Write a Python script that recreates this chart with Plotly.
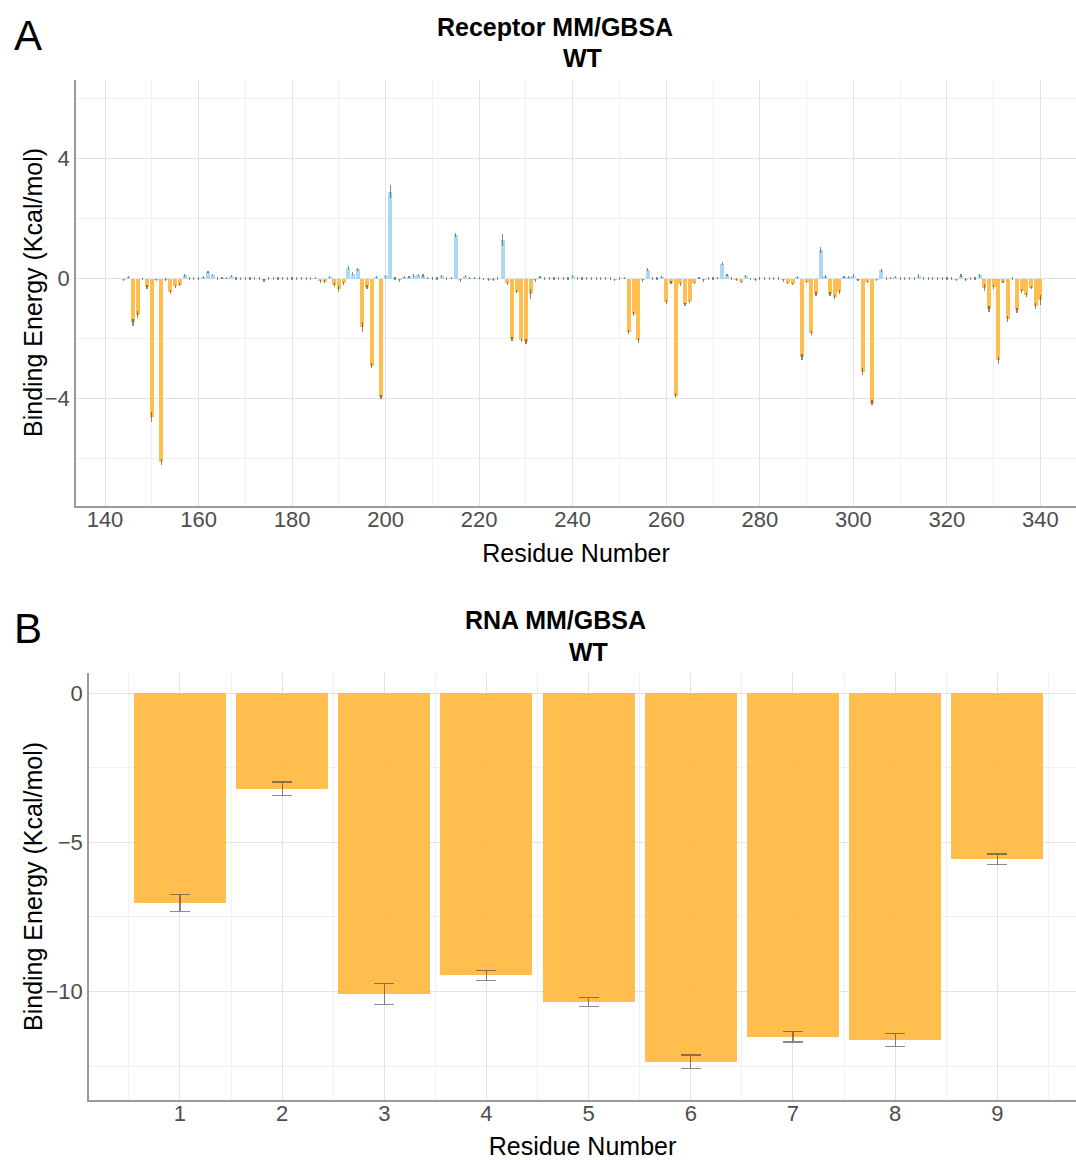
import plotly.graph_objects as go

# ---------------- Data ----------------
# Panel A: receptor residues 144..340
receptor_residues = list(range(144, 341))
receptor_energy = [
    -0.05, 0.05, -1.45, -1.2, -0.02, -0.28, -4.6, -0.05, -6.1, -0.03,   # 144-153
    -0.44, -0.25, -0.2, 0.11, 0.0, 0.0, 0.0, 0.05, 0.22, 0.13,          # 154-163
    0.0, 0.02, 0.02, 0.08, 0.0, 0.0, 0.0, 0.0, 0.0, 0.0,                # 164-173
    -0.06, 0.0, 0.0, 0.0, 0.0, 0.0, 0.0, 0.0, 0.0, 0.0,                 # 174-183
    0.0, 0.03, -0.08, -0.11, 0.05, -0.22, -0.35, -0.15, 0.37, 0.17,     # 184-193
    0.31, -1.6, -0.28, -2.9, 0.05, -3.94, 0.08, 2.9, 0.01, -0.06,       # 194-203
    0.06, 0.05, 0.1, 0.12, 0.1, 0.02, 0.0, 0.0, 0.09, 0.0,              # 204-213
    0.02, 1.45, -0.06, 0.08, 0.03, 0.03, 0.02, -0.02, -0.03, -0.03,     # 214-223
    0.0, 1.28, -0.15, -2.0, -0.44, -2.06, -2.1, -0.5, -0.06, 0.05,      # 224-233
    0.0, 0.0, 0.0, 0.0, 0.0, 0.0, 0.08, 0.0, 0.0, 0.0,                  # 234-243
    0.0, 0.0, 0.0, 0.0, 0.0, -0.04, 0.0, 0.02, -1.78, -1.19,            # 244-253
    -2.06, -0.06, 0.3, 0.0, 0.0, 0.05, -0.78, -0.13, -3.9, -0.19,       # 254-263
    -0.86, -0.76, -0.15, 0.03, -0.06, 0.0, 0.0, 0.03, 0.5, 0.13,        # 264-273
    0.0, -0.03, -0.11, 0.08, -0.02, -0.03, 0.0, 0.0, 0.0, 0.0,          # 274-283
    0.0, -0.06, -0.15, -0.17, 0.05, -2.61, -0.11, -1.81, -0.52, 0.94,   # 284-293
    0.08, -0.52, -0.61, -0.44, 0.05, 0.06, 0.09, -0.05, -3.1, -0.11,    # 294-303
    -4.13, -0.05, 0.28, 0.0, 0.02, 0.06, 0.0, 0.0, 0.0, 0.0,            # 304-313
    0.1, 0.0, 0.0, 0.0, 0.0, 0.0, 0.0, 0.0, -0.05, 0.1,                 # 314-323
    -0.03, 0.0, 0.0, 0.12, -0.3, -1.0, -0.27, -2.72, -0.11, -1.33,      # 324-333
    0.0, -1.06, -0.42, -0.54, -0.3, -0.9, -0.72,                        # 334-340
]
receptor_error = [
    0.02, 0.02, 0.1, 0.1, 0.02, 0.04, 0.15, 0.02, 0.08, 0.02,
    0.04, 0.03, 0.03, 0.03, 0.02, 0.02, 0.02, 0.02, 0.02, 0.02,
    0.02, 0.02, 0.02, 0.02, 0.02, 0.02, 0.02, 0.02, 0.02, 0.02,
    0.02, 0.02, 0.02, 0.02, 0.02, 0.02, 0.02, 0.02, 0.02, 0.02,
    0.02, 0.02, 0.03, 0.03, 0.02, 0.04, 0.08, 0.03, 0.03, 0.02,
    0.03, 0.15, 0.05, 0.06, 0.02, 0.05, 0.02, 0.2, 0.02, 0.02,
    0.02, 0.02, 0.02, 0.02, 0.02, 0.02, 0.02, 0.02, 0.02, 0.02,
    0.02, 0.05, 0.02, 0.02, 0.02, 0.02, 0.02, 0.02, 0.02, 0.02,
    0.02, 0.18, 0.03, 0.05, 0.03, 0.04, 0.06, 0.15, 0.02, 0.02,
    0.02, 0.02, 0.02, 0.02, 0.02, 0.02, 0.02, 0.02, 0.02, 0.02,
    0.02, 0.02, 0.02, 0.02, 0.02, 0.02, 0.02, 0.02, 0.06, 0.05,
    0.05, 0.02, 0.03, 0.02, 0.02, 0.02, 0.05, 0.02, 0.06, 0.02,
    0.04, 0.04, 0.02, 0.02, 0.02, 0.02, 0.02, 0.02, 0.04, 0.02,
    0.02, 0.02, 0.02, 0.02, 0.02, 0.02, 0.02, 0.02, 0.02, 0.02,
    0.02, 0.02, 0.02, 0.02, 0.02, 0.08, 0.02, 0.05, 0.04, 0.08,
    0.03, 0.04, 0.05, 0.04, 0.02, 0.02, 0.03, 0.02, 0.1, 0.02,
    0.06, 0.02, 0.03, 0.02, 0.02, 0.02, 0.02, 0.02, 0.02, 0.02,
    0.02, 0.02, 0.02, 0.02, 0.02, 0.02, 0.02, 0.02, 0.02, 0.02,
    0.02, 0.02, 0.02, 0.03, 0.1, 0.08, 0.04, 0.1, 0.02, 0.08,
    0.02, 0.06, 0.05, 0.05, 0.04, 0.08, 0.15,
]

# Panel B: RNA residues 1..9
rna_residues = [1, 2, 3, 4, 5, 6, 7, 8, 9]
rna_energy = [-7.03, -3.2, -10.07, -9.46, -10.34, -12.35, -11.51, -11.62, -5.56]
rna_error = [0.28, 0.22, 0.35, 0.17, 0.15, 0.23, 0.18, 0.21, 0.17]

# ---------------- Styling ----------------
ORANGE = "rgba(255,183,58,0.9)"
BLUE = "rgba(160,214,240,0.9)"
ERR = "rgba(60,60,60,0.6)"
FONT = "Liberation Sans, Arial, Helvetica, sans-serif"
W, H = 1076, 1160

def px_x(x):
    return x / W

def px_y(y):
    return 1 - y / H

rec_colors = [ORANGE if v < 0 else BLUE for v in receptor_energy]

fig = go.Figure()
fig.add_trace(go.Bar(
    x=receptor_residues, y=receptor_energy, width=0.85,
    marker=dict(color=rec_colors, line=dict(width=0)),
    error_y=dict(type="data", array=receptor_error, color=ERR, thickness=1.2, width=0.6),
    xaxis="x", yaxis="y", showlegend=False,
))
fig.add_trace(go.Bar(
    x=rna_residues, y=rna_energy, width=0.9,
    marker=dict(color=ORANGE, line=dict(width=0)),
    error_y=dict(type="data", array=rna_error, color=ERR, thickness=1.2, width=10),
    xaxis="x2", yaxis="y2", showlegend=False,
))

GRID = "#e3e3e3"
MINOR = "#f1f1f1"
AXLINE = "#9a9a9a"
TICKFONT = dict(family=FONT, size=22, color="#4d4d4d")
TITLEFONT = dict(family=FONT, size=25, color="black")

common_x = dict(showline=True, linecolor=AXLINE, linewidth=1.5, ticks="", ticklen=0,
                zeroline=False, gridcolor=GRID, gridwidth=1, tickfont=TICKFONT,
                ticklabelstandoff=-7)
common_y = dict(showline=True, linecolor=AXLINE, linewidth=1.5, ticks="", ticklen=0,
                zeroline=False, gridcolor=GRID, gridwidth=1, tickfont=TICKFONT)

fig.update_layout(
    width=W, height=H,
    margin=dict(l=0, r=0, t=0, b=0),
    paper_bgcolor="white", plot_bgcolor="white",
    bargap=0, barmode="overlay",
    font=dict(family=FONT),
    xaxis=dict(**common_x,
               domain=[px_x(76), px_x(1076)], range=[133.8, 347.6],
               tick0=140, dtick=20, anchor="y",
               minor=dict(dtick=10, showgrid=True, gridcolor=MINOR, gridwidth=1),
               title=dict(text="Residue Number", font=TITLEFONT, standoff=13)),
    yaxis=dict(**common_y,
               domain=[px_y(506), px_y(80)], range=[-7.58, 6.62],
               tick0=0, dtick=4, anchor="x",
               minor=dict(dtick=2, showgrid=True, gridcolor=MINOR, gridwidth=1)),
    xaxis2=dict(**common_x,
                domain=[px_x(89), px_x(1076)], range=[0.11, 9.77],
                tick0=1, dtick=1, anchor="y2",
                minor=dict(dtick=0.5, showgrid=True, gridcolor=MINOR, gridwidth=1),
                title=dict(text="Residue Number", font=TITLEFONT, standoff=13)),
    yaxis2=dict(**common_y,
                domain=[px_y(1100), px_y(673)], range=[-13.63, 0.67],
                tick0=0, dtick=5, anchor="x2",
                minor=dict(dtick=2.5, showgrid=True, gridcolor=MINOR, gridwidth=1)),
)

annotations = [
    dict(text="A", x=px_x(28), y=px_y(36), font=dict(family=FONT, size=42, color="black")),
    dict(text="B", x=px_x(28), y=px_y(628), font=dict(family=FONT, size=42, color="black")),
    dict(text="<b>Receptor MM/GBSA</b>", x=px_x(555), y=px_y(27), font=dict(family=FONT, size=25, color="black")),
    dict(text="<b>WT</b>", x=px_x(582), y=px_y(58), font=dict(family=FONT, size=25, color="black")),
    dict(text="<b>RNA MM/GBSA</b>", x=px_x(555), y=px_y(620), font=dict(family=FONT, size=25, color="black")),
    dict(text="<b>WT</b>", x=px_x(588), y=px_y(652), font=dict(family=FONT, size=25, color="black")),
    dict(text="Binding Energy (Kcal/mol)", x=px_x(33), y=px_y(293), textangle=-90, font=TITLEFONT),
    dict(text="Binding Energy (Kcal/mol)", x=px_x(33), y=px_y(887), textangle=-90, font=TITLEFONT),
]
for a in annotations:
    a.update(xref="paper", yref="paper", showarrow=False, xanchor="center", yanchor="middle")
fig.update_layout(annotations=annotations)

fig.write_html("out.html")
